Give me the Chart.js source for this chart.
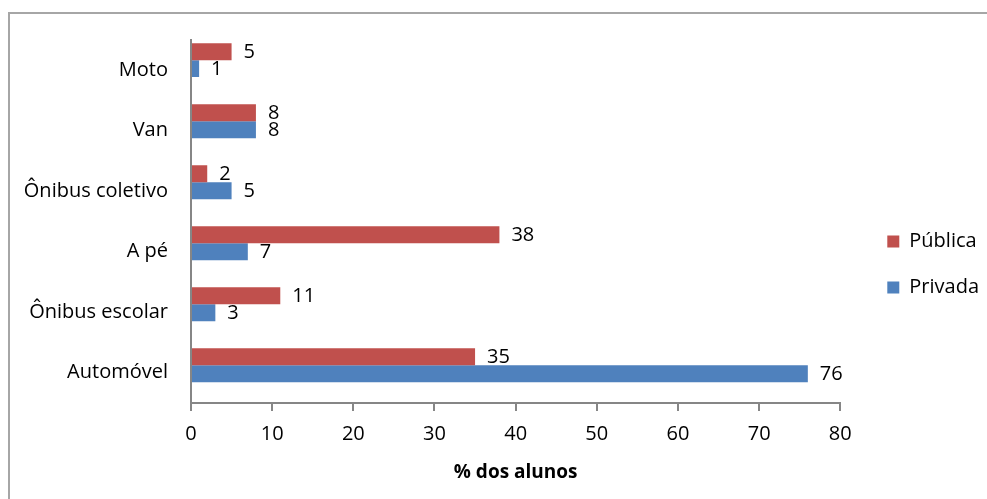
<!DOCTYPE html>
<html>
<head>
<meta charset="utf-8">
<script src="https://cdn.jsdelivr.net/npm/chart.js@4/dist/chart.umd.min.js"></script>
<style>
  html, body { margin: 0; padding: 0; background: #fff; }
  #wrap { width: 987px; height: 499px; }
</style>
</head>
<body>
<div id="wrap"><canvas id="miCanva"></canvas></div>
<script>
const categorias = ['Moto', 'Van', 'Ônibus coletivo', 'A pé', 'Ônibus escolar', 'Automóvel'];
const publica = [5, 8, 2, 38, 11, 35];
const privada = [1, 8, 5, 7, 3, 76];
const ticksX = [0, 10, 20, 30, 40, 50, 60, 70, 80];

const fuente = '"Open Sans", Lato, sans-serif';
const gris = '#868686';

// etiquetas de valor al final de cada barra
const etiquetas = {
  id: 'etiquetas',
  afterDatasetsDraw(chart) {
    const ctx = chart.ctx;
    ctx.save();
    ctx.font = '20px ' + fuente;
    ctx.fillStyle = '#000';
    ctx.textAlign = 'left';
    ctx.textBaseline = 'middle';
    chart.data.datasets.forEach((ds, i) => {
      chart.getDatasetMeta(i).data.forEach((bar, j) => {
        ctx.fillText(String(ds.data[j].x), bar.x + 12, bar.y + 1);
      });
    });
    ctx.restore();
  }
};

// marco exterior y ajuste de la leyenda
const marco = {
  id: 'marco',
  afterLayout(chart) {
    chart.legend.left += 21;
    chart.legend.right += 21;
  },
  beforeDraw(chart) {
    const ctx = chart.ctx;
    ctx.save();
    ctx.strokeStyle = '#a6a6a6';
    ctx.lineWidth = 2;
    ctx.strokeRect(9, 13, 1000, 500);
    ctx.restore();
  }
};

new Chart(document.getElementById('miCanva'), {
  type: 'bar',
  data: {
    labels: categorias,
    datasets: [{
      label: 'Pública',
      data: publica.map((v, i) => ({ x: v, y: i })),
      backgroundColor: '#C0504D',
      borderWidth: 0,
      yAxisID: 'yb'
    }, {
      label: 'Privada',
      data: privada.map((v, i) => ({ x: v, y: i })),
      backgroundColor: '#4F81BD',
      borderWidth: 0,
      yAxisID: 'yb'
    }]
  },
  options: {
    indexAxis: 'y',
    responsive: true,
    maintainAspectRatio: false,
    animation: false,
    layout: { padding: { left: 10, top: 40, right: 19, bottom: 10 } },
    datasets: { bar: { categoryPercentage: 0.557, barPercentage: 1 } },
    plugins: {
      legend: {
        position: 'right',
        labels: {
          boxWidth: 12,
          boxHeight: 12,
          padding: 26,
          color: '#000',
          font: { family: fuente, size: 20 }
        }
      },
      tooltip: { enabled: false }
    },
    scales: {
      x: {
        min: 0,
        max: 80,
        afterBuildTicks(scale) { scale.ticks = ticksX.map(v => ({ value: v })); },
        afterFit(scale) { scale.height = 86; },
        grid: { drawOnChartArea: false, color: gris, tickLength: 8, lineWidth: 2 },
        border: { color: gris, width: 2 },
        ticks: { color: '#000', padding: 11, font: { family: fuente, size: 20 } },
        title: {
          display: true,
          text: '% dos alunos',
          color: '#000',
          padding: { top: 0, bottom: 5 },
          font: { family: fuente, size: 19, weight: 'bold' }
        }
      },
      y: {
        type: 'category',
        offset: true,
        afterFit(scale) { scale.width = 181; },
        grid: { display: false },
        border: { color: gris, width: 2 },
        ticks: { color: '#000', padding: 15, font: { family: fuente, size: 20 } }
      },
      yb: {
        type: 'linear',
        display: false,
        offset: false,
        reverse: true,
        min: -0.33,
        max: 5.62,
        afterBuildTicks(scale) { scale.ticks = categorias.map((c, i) => ({ value: i })); }
      }
    }
  },
  plugins: [etiquetas, marco]
});
</script>
</body>
</html>
